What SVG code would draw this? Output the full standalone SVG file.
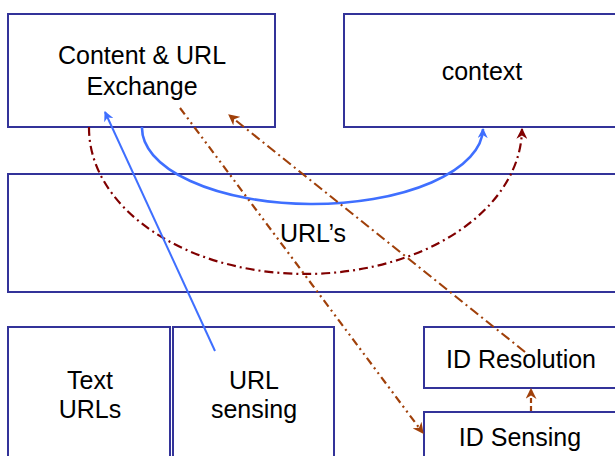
<svg xmlns="http://www.w3.org/2000/svg" width="615" height="456" viewBox="0 0 615 456">
<style>
.box{fill:#fff;stroke:#333399;stroke-width:2}
.t{font-family:"Liberation Sans",Arial,sans-serif;font-size:25px;fill:#000;text-anchor:middle}
.blue{fill:none;stroke:#3f6fff;stroke-width:2}
.blue2{fill:none;stroke:#3f6fff;stroke-width:2.6}
.dred{fill:none;stroke:#800000;stroke-width:2.2;stroke-dasharray:9 4 2 4}
.br1{fill:none;stroke:#a0400a;stroke-width:2.2;stroke-dasharray:8 4 2 4 2 4}
.br2{fill:none;stroke:#a0400a;stroke-width:2.2;stroke-dasharray:10 4 2 4}
.br3{fill:none;stroke:#a0400a;stroke-width:2.2;stroke-dasharray:5 3}
</style>
<defs>
<marker id="aB" viewBox="0 0 10 10" refX="9" refY="5" markerWidth="10" markerHeight="10" markerUnits="userSpaceOnUse" orient="auto"><path d="M0,0 L10,5 L0,10 L3,5 z" fill="#3f6fff"/></marker>
<marker id="aR" viewBox="0 0 10 10" refX="9" refY="5" markerWidth="11" markerHeight="11" markerUnits="userSpaceOnUse" orient="auto"><path d="M0,0 L10,5 L0,10 L3,5 z" fill="#800000"/></marker>
<marker id="aW" viewBox="0 0 10 10" refX="9" refY="5" markerWidth="11" markerHeight="11" markerUnits="userSpaceOnUse" orient="auto"><path d="M0,0 L10,5 L0,10 L3,5 z" fill="#a0400a"/></marker>
</defs>
<g id="content"><rect class="box" x="8" y="14" width="267" height="113"/><text class="t" x="142" y="64">Content &amp; URL</text><text class="t" x="142" y="95">Exchange</text></g>
<g id="context"><rect class="box" x="344" y="14" width="280" height="113"/><text class="t" x="482" y="80">context</text></g>
<g id="urls"><rect class="box" x="8" y="174" width="616" height="118"/><text class="t" x="313" y="242">URL’s</text></g>
<g id="texturls"><rect class="box" x="8" y="327" width="162" height="140"/><text class="t" x="90" y="389">Text</text><text class="t" x="90" y="418">URLs</text></g>
<g id="urlsensing"><rect class="box" x="173" y="327" width="161" height="140"/><text class="t" x="254" y="389">URL</text><text class="t" x="254" y="418">sensing</text></g>
<g id="idres"><rect class="box" x="424" y="327" width="200" height="61"/><text class="t" x="521" y="368">ID Resolution</text></g>
<g id="idsens"><rect class="box" x="424" y="412" width="200" height="60"/><text class="t" x="520" y="446">ID Sensing</text></g>
<g id="connectors">
<path class="blue2" d="M142,127 A170.5 76 0 0 0 483,129" marker-end="url(#aB)"/>
<path class="dred" d="M89,127 A216.5 146 0 0 0 522,129" marker-end="url(#aR)"/>
<line class="blue" x1="215" y1="351" x2="105" y2="112" marker-end="url(#aB)"/>
<line class="br1" x1="180" y1="108" x2="423" y2="433" marker-end="url(#aW)"/>
<line class="br2" x1="525" y1="352" x2="229" y2="115" marker-end="url(#aW)"/>
<line class="br3" x1="531" y1="411" x2="531" y2="389" marker-end="url(#aW)"/>
</g>
</svg>
